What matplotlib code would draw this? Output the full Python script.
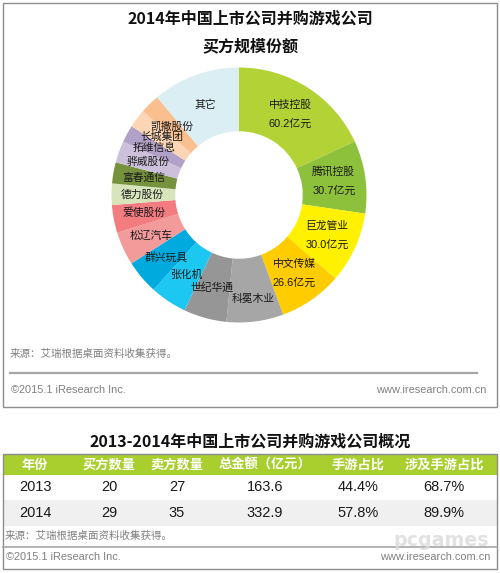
# -*- coding: utf-8 -*-
import matplotlib
matplotlib.use("Agg")
from matplotlib import pyplot as plt
from matplotlib.patches import Rectangle

W,H=500,573
FONT=['Liberation Sans','Noto Sans CJK SC']
BOLD=['Noto Sans CJK SC','Liberation Sans']

buyers=["中技控股","腾讯控股","巨龙管业","中文传媒","科冕木业","世纪华通","张化机","群兴玩具","松辽汽车",
        "爱使股份","德力股份","富春通信","骅威股份","拓维信息","长城集团","凯撒股份","其它"]
amounts=[60.2,30.7,30.0,26.6,24.0,18.1,15.5,14.3,14.1,11.7,9.0,8.9,9.2,7.2,7.8,8.3,36.9]
amount_labels=["60.2亿元","30.7亿元","30.0亿元","26.6亿元"]
colors=["#B2D235","#8DC03B","#FFF100","#FFCC00","#A6A6A6","#969696","#1CC7F2","#00A9DE","#F39A9A",
        "#F27C80","#D8E4BC","#76923C","#CCC0DA","#B1A0C7","#FCD5B4","#FABF8F","#DAEEF3"]

# table
table_head=["年份","买方数量","卖方数量","总金额（亿元）","手游占比","涉及手游占比"]
table_2013=["2013","20","27","163.6","44.4%","68.7%"]
table_2014=["2014","29","35","332.9","57.8%","89.9%"]

# label centres in pixels
label_xy=[(290,105),(333,172),(327,226),(294,264),(253,299),(212,287),(186,275),(166,257),(151,236),
          (144,213),(142,195),(144,178),(148,162),(154,148),(162,137),(172,127),(205,105)]
amount_xy=[(290,124),(334,191),(327,245),(294,283)]
col_x=[35,109,177,265,358,444]

def px(n):
    return n*72/100.

fig=plt.figure(figsize=(W/100.,H/100.),dpi=100,facecolor="white")

# donut
cx,cy,r=239,195,127.5
ax_pie=fig.add_axes([(cx-r)/W,1-(cy+r)/H,2*r/W,2*r/H])
ax_pie.pie(amounts,colors=colors,startangle=90,counterclock=False,radius=1,
           wedgeprops=dict(width=0.5,linewidth=0))
ax_pie.set_xlim(-1,1)
ax_pie.set_ylim(-1,1)

# everything else is laid out in image pixels
ax=fig.add_axes([0,0,1,1],zorder=5)
ax.set_xlim(0,W)
ax.set_ylim(H,0)
ax.axis("off")

def txt(x,y,s,size,color="#222222",ha="center",weight="normal",family=FONT,**kw):
    ax.text(x,y,s,fontsize=px(size),color=color,ha=ha,va="center",weight=weight,family=family,**kw)

# top panel
ax.add_patch(Rectangle((3,3),494,404,fill=False,ec="#8C8C8C",lw=1))
txt(250,18,"2014年中国上市公司并购游戏公司",16,color="#111111",weight="bold",family=BOLD)
txt(250,46,"买方规模份额",16,color="#111111",weight="bold",family=BOLD)
for name,(x,y) in zip(buyers,label_xy):
    txt(x,y,name,10.8,color="#1A1A1A")
for s,(x,y) in zip(amount_labels,amount_xy):
    txt(x,y,s,11,color="#1A1A1A")
txt(10,354,"来源：艾瑞根据桌面资料收集获得。",10.5,color="#808080",ha="left")
ax.plot([10,477],[373,373],color="#A6A6A6",lw=1.6)
txt(11,390,"©2015.1 iResearch Inc.",11,color="#808080",ha="left")
txt(486,390,"www.iresearch.com.cn",11,color="#808080",ha="right")

# bottom table
txt(250,441,"2013-2014年中国上市公司并购游戏公司概况",16,color="#111111",weight="bold",family=BOLD)
ax.add_patch(Rectangle((3,454),494,21,fc="#A9CF2E",ec="none"))
ax.add_patch(Rectangle((3,500),494,25.5,fc="#F0F0F0",ec="none"))
ax.add_patch(Rectangle((3,453.5),494,115.5,fill=False,ec="#8C8C8C",lw=1))
for x,h,a,b in zip(col_x,table_head,table_2013,table_2014):
    txt(x,464.5,h,13.2,color="white",weight="bold",family=BOLD)
    txt(x,487,a,14.5,color="#1A1A1A")
    txt(x,513,b,14.5,color="#1A1A1A")
txt(5,536,"来源：艾瑞根据桌面资料收集获得。",10.5,color="#808080",ha="left")
ax.plot([3,497],[547,547],color="#A6A6A6",lw=1.2)
txt(6,557,"©2015.1 iResearch Inc.",11,color="#808080",ha="left")
txt(490,557,"www.iresearch.com.cn",11,color="#808080",ha="right")

# watermark
txt(441,541,"pcgames",19,color="#DADADA",weight="bold",family=['DejaVu Sans'],alpha=0.8)

fig.savefig("out.png",dpi=100)
